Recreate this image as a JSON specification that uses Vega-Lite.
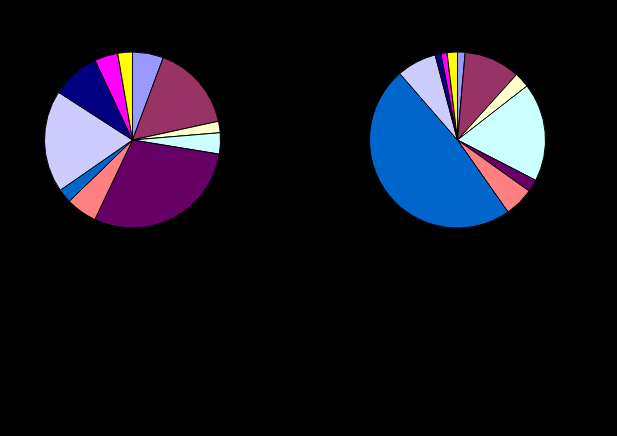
{
  "$schema": "https://vega.github.io/schema/vega-lite/v6.json",
  "background": "black",
  "padding": {"left": 0, "top": 0, "right": 27, "bottom": 156},
  "data": {"values": [
    {"chart": "A", "i": 1, "cat": "c1", "v": 5.7},
    {"chart": "A", "i": 2, "cat": "c2", "v": 15.9},
    {"chart": "A", "i": 3, "cat": "c3", "v": 2.1},
    {"chart": "A", "i": 4, "cat": "c4", "v": 3.9},
    {"chart": "A", "i": 5, "cat": "c5", "v": 29.5},
    {"chart": "A", "i": 6, "cat": "c6", "v": 5.7},
    {"chart": "A", "i": 7, "cat": "c7", "v": 2.6},
    {"chart": "A", "i": 8, "cat": "c8", "v": 18.8},
    {"chart": "A", "i": 9, "cat": "c9", "v": 8.9},
    {"chart": "A", "i": 10, "cat": "c10", "v": 4.3},
    {"chart": "A", "i": 11, "cat": "c11", "v": 2.7},
    {"chart": "B", "i": 1, "cat": "c1", "v": 1.4},
    {"chart": "B", "i": 2, "cat": "c2", "v": 10.3},
    {"chart": "B", "i": 3, "cat": "c3", "v": 2.8},
    {"chart": "B", "i": 4, "cat": "c4", "v": 18.1},
    {"chart": "B", "i": 5, "cat": "c5", "v": 2.3},
    {"chart": "B", "i": 6, "cat": "c6", "v": 5.4},
    {"chart": "B", "i": 7, "cat": "c7", "v": 48.4},
    {"chart": "B", "i": 8, "cat": "c8", "v": 7.3},
    {"chart": "B", "i": 9, "cat": "c9", "v": 1.1},
    {"chart": "B", "i": 10, "cat": "c10", "v": 1.1},
    {"chart": "B", "i": 11, "cat": "c11", "v": 1.9}
  ]},
  "facet": {"column": {"field": "chart", "type": "nominal", "header": {"title": null, "labels": false}}},
  "spacing": 60,
  "spec": {
    "width": 265,
    "height": 280,
    "mark": {"type": "arc", "outerRadius": 88, "stroke": "black", "strokeWidth": 1},
    "encoding": {
      "theta": {"field": "v", "type": "quantitative", "stack": true},
      "order": {"field": "i", "type": "quantitative"},
      "color": {"field": "cat", "type": "nominal", "legend": null,
        "scale": {"domain": ["c1","c2","c3","c4","c5","c6","c7","c8","c9","c10","c11"],
                  "range": ["#9999FF","#993366","#FFFFCC","#CCFFFF","#660066","#FF8080","#0066CC","#CCCCFF","#000080","#FF00FF","#FFFF00"]}}
    }
  },
  "config": {"view": {"stroke": null}}
}
